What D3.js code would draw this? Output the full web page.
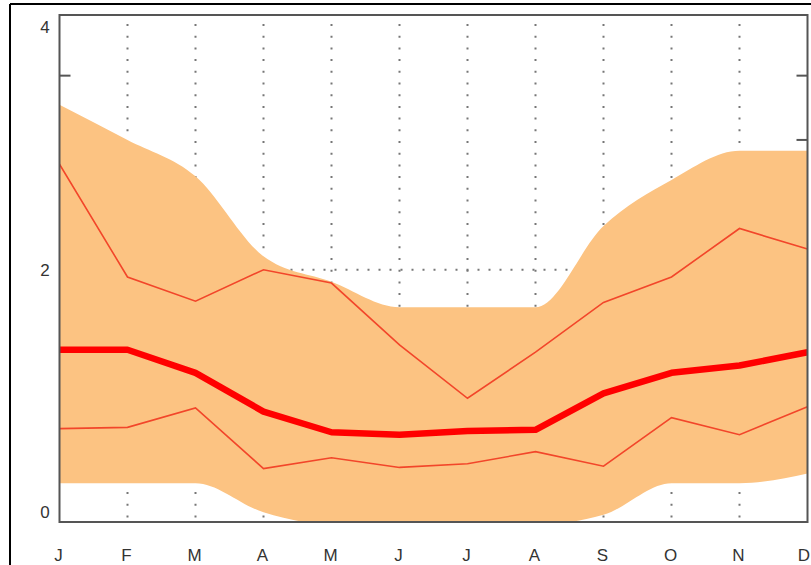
<!DOCTYPE html>
<html>
<head>
<meta charset="utf-8">
<script src="https://cdn.jsdelivr.net/npm/d3@7"></script>
<style>
  body { margin: 0; background: #fff; }
  svg { display: block; font-family: "Liberation Sans", Arial, sans-serif; }
</style>
</head>
<body>
<div id="viz"></div>
<script>
// Data
const months = ["J", "F", "M", "A", "M", "J", "J", "A", "S", "O", "N", "D"];
const bandUpper = [3.36, 3.07, 2.77, 2.11, 1.90, 1.69, 1.69, 1.69, 2.36, 2.74, 2.98, 2.98];
const bandLower = [0.24, 0.24, 0.24, 0.00, -0.10, -0.10, -0.10, -0.10, -0.02, 0.24, 0.24, 0.32];
const upperLine = [2.87, 1.94, 1.74, 2.00, 1.89, 1.38, 0.94, 1.32, 1.73, 1.94, 2.34, 2.17];
const median = [1.34, 1.34, 1.15, 0.83, 0.66, 0.64, 0.67, 0.68, 0.98, 1.15, 1.21, 1.32];
const lowerLine = [0.69, 0.70, 0.86, 0.36, 0.45, 0.37, 0.40, 0.50, 0.38, 0.78, 0.64, 0.87];
const yTickLabels = [0, 2, 4];
const yMinorTicks = [3.07, 3.6];
const yGrid = [2];

const W = 811, H = 565;
const margin = { top: 15, right: 3, bottom: 43, left: 60 };

const svg = d3.select("#viz")
    .append("svg")
    .attr("width", W)
    .attr("height", H);

svg.append("rect").attr("width", W).attr("height", H).attr("fill", "#fff");

// outer border of the screenshot (left and top only)
svg.append("line").attr("x1", 10).attr("x2", 10).attr("y1", 4).attr("y2", H)
    .attr("stroke", "#000").attr("stroke-width", 2);
svg.append("line").attr("x1", 10).attr("x2", W).attr("y1", 4).attr("y2", 4)
    .attr("stroke", "#000").attr("stroke-width", 2);

const x = d3.scaleLinear()
    .domain([0, 11])
    .range([margin.left - 0.5, W - margin.right - 0.5]);

const y = d3.scaleLinear()
    .domain([-0.08, 4.1])
    .range([H - margin.bottom, margin.top]);

svg.append("clipPath").attr("id", "plot")
    .append("rect")
    .attr("x", x(0)).attr("y", y(4.1))
    .attr("width", x(11) - x(0)).attr("height", y(-0.08) - y(4.1));

// dotted grid
svg.append("g")
    .selectAll("line")
    .data(d3.range(1, 11))
    .enter()
    .append("line")
    .attr("x1", d => x(d)).attr("x2", d => x(d))
    .attr("y1", y(4.1) + 9).attr("y2", y(-0.08))
    .attr("stroke", "#777")
    .attr("stroke-width", 2)
    .attr("stroke-dasharray", "2 9.7");

svg.append("g")
    .selectAll("line")
    .data(yGrid)
    .enter()
    .append("line")
    .attr("x1", x(0)).attr("x2", x(11))
    .attr("y1", d => y(d)).attr("y2", d => y(d))
    .attr("stroke", "#777")
    .attr("stroke-width", 2)
    .attr("stroke-dasharray", "2 9");

// minor ticks (left and right)
const tickG = svg.append("g");
yMinorTicks.forEach(v => {
    tickG.append("line")
        .attr("x1", x(0)).attr("x2", x(0) + 11)
        .attr("y1", y(v)).attr("y2", y(v))
        .attr("stroke", "#555").attr("stroke-width", 2);
    tickG.append("line")
        .attr("x1", x(11)).attr("x2", x(11) - 11)
        .attr("y1", y(v)).attr("y2", y(v))
        .attr("stroke", "#555").attr("stroke-width", 2);
});

const plot = svg.append("g").attr("clip-path", "url(#plot)");

const area = d3.area()
    .x((d, i) => x(i))
    .y0((d, i) => y(bandLower[i]))
    .y1(d => y(d))
    .curve(d3.curveMonotoneX);

plot.append("path")
    .datum(bandUpper)
    .attr("d", area)
    .attr("fill", "#fcc382");

const line = d3.line()
    .x((d, i) => x(i))
    .y(d => y(d));

[upperLine, lowerLine].forEach(s => {
    plot.append("path")
        .datum(s)
        .attr("d", line)
        .attr("fill", "none")
        .attr("stroke", "#f2462a")
        .attr("stroke-width", 1.6);
});

plot.append("path")
    .datum(median)
    .attr("d", line)
    .attr("fill", "none")
    .attr("stroke", "#ff0000")
    .attr("stroke-width", 6.5)
    .attr("stroke-linejoin", "round");

// frame
svg.append("rect")
    .attr("x", x(0)).attr("y", y(4.1))
    .attr("width", x(11) - x(0)).attr("height", y(-0.08) - y(4.1))
    .attr("fill", "none")
    .attr("stroke", "#555")
    .attr("stroke-width", 2);

// tick labels
svg.append("g")
    .selectAll("text")
    .data(yTickLabels)
    .enter()
    .append("text")
    .attr("x", 45)
    .attr("y", d => y(d))
    .attr("dy", "0.36em")
    .attr("text-anchor", "middle")
    .attr("fill", "#333")
    .style("font-size", "17px")
    .text(d => d);

// last label sits at the right edge, keep it inside the page
svg.append("g")
    .selectAll("text")
    .data(months)
    .enter()
    .append("text")
    .attr("x", (d, i) => i === months.length - 1 ? W - 1 : x(i) - 1)
    .attr("y", 561)
    .attr("text-anchor", (d, i) => i === months.length - 1 ? "end" : "middle")
    .attr("fill", "#333")
    .style("font-size", "17px")
    .text(d => d);
</script>
</body>
</html>
